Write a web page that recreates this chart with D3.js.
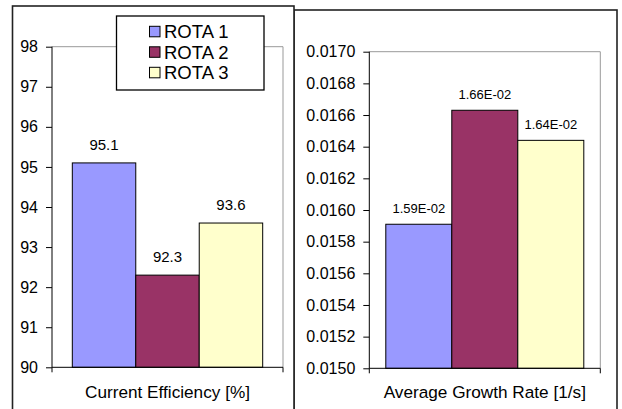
<!DOCTYPE html>
<html>
<head>
<meta charset="utf-8">
<script src="https://cdn.jsdelivr.net/npm/d3@7"></script>
<style>
  body { margin: 0; background: #fff; }
  text { font-family: "Liberation Sans", Arial, sans-serif; fill: #000; }
</style>
</head>
<body>
<svg id="chart" width="622" height="409"></svg>
<script>
const series = ["ROTA 1", "ROTA 2", "ROTA 3"];
const colors = ["#9999ff", "#993366", "#ffffcc"];
const efficiency = [95.1, 92.3, 93.6];
const efficiencyLabels = ["95.1", "92.3", "93.6"];
const growth = [0.01591, 0.01663, 0.01644];
const growthLabels = ["1.59E-02", "1.66E-02", "1.64E-02"];
const effTicks = [90, 91, 92, 93, 94, 95, 96, 97, 98];
const growthTicks = [0.0150, 0.0152, 0.0154, 0.0156, 0.0158, 0.0160, 0.0162, 0.0164, 0.0166, 0.0168, 0.0170];

const svg = d3.select("#chart");

// outer chart frames (run off bottom of the picture)
svg.append("rect").attr("x", 294).attr("y", 10).attr("width", 323).attr("height", 420)
  .attr("fill", "#fff").attr("stroke", "#222").attr("stroke-width", 1.6);
svg.append("rect").attr("x", 12.5).attr("y", 6).attr("width", 281.5).attr("height", 420)
  .attr("fill", "#fff").attr("stroke", "#222").attr("stroke-width", 1.6);

function panel(opts) {
  const g = svg.append("g");
  const { x0, x1, y0, y1 } = opts;
  const y = d3.scaleLinear().domain(opts.domain).range([y1, y0]);
  const x = d3.scaleBand().domain(series).range([x0, x1]).paddingInner(0).paddingOuter(opts.pad);

  // plot frame: grey top/right
  g.append("path")
    .attr("d", `M${x0},${y0}H${x1}V${y1}`)
    .attr("fill", "none").attr("stroke", "#999").attr("stroke-width", 1);

  // bars
  g.selectAll("rect.bar").data(opts.values).join("rect")
    .attr("class", "bar")
    .attr("x", (d, i) => x(series[i]))
    .attr("width", x.bandwidth())
    .attr("y", d => y(d))
    .attr("height", d => y1 - y(d))
    .attr("fill", (d, i) => colors[i])
    .attr("stroke", "#000").attr("stroke-width", 1);

  // value labels
  g.selectAll("text.val").data(opts.values).join("text")
    .attr("class", "val")
    .attr("x", (d, i) => x(series[i]) + x.bandwidth() / 2)
    .attr("y", d => y(d) - opts.labelGap)
    .attr("text-anchor", "middle")
    .style("font-size", opts.labelSize + "px")
    .text((d, i) => opts.labels[i]);

  // y axis
  const ax = g.append("g").attr("transform", `translate(${x0},0)`)
    .call(d3.axisLeft(y).tickValues(opts.ticks).tickFormat(opts.fmt).tickSize(6).tickPadding(8));
  ax.select(".domain").remove();
  ax.selectAll("line").attr("stroke", "#000");
  ax.selectAll("text").style("font-size", "16px").style("font-family", "Liberation Sans, Arial, sans-serif");
  g.append("line").attr("x1", x0).attr("x2", x0).attr("y1", y0).attr("y2", y1)
    .attr("stroke", "#000");

  // category axis
  g.append("path")
    .attr("d", `M${x0},${y1 + 5}V${y1}H${x1}V${y1 + 5}`)
    .attr("fill", "none").attr("stroke", "#000");
  g.append("text")
    .attr("x", (x0 + x1) / 2).attr("y", 398)
    .attr("text-anchor", "middle")
    .style("font-size", "17.2px")
    .text(opts.title);
}

panel({
  x0: 52, x1: 283, y0: 46.7, y1: 367.3,
  domain: [90, 98], values: efficiency, labels: efficiencyLabels,
  ticks: effTicks, fmt: d3.format("d"), pad: 0.32,
  labelGap: 13, labelSize: 15,
  title: "Current Efficiency [%]"
});

panel({
  x0: 369.3, x1: 600.3, y0: 51.7, y1: 368.3,
  domain: [0.0150, 0.0170], values: growth, labels: growthLabels,
  ticks: growthTicks, fmt: d3.format(".4f"), pad: 0.25,
  labelGap: 11, labelSize: 13,
  title: "Average Growth Rate [1/s]"
});

// legend
const leg = svg.append("g");
leg.append("rect").attr("x", 116.5).attr("y", 16).attr("width", 147.5).attr("height", 74)
  .attr("fill", "#fff").attr("stroke", "#000").attr("stroke-width", 1.3);
const rows = leg.selectAll("g.row").data(series).join("g")
  .attr("class", "row")
  .attr("transform", (d, i) => `translate(0,${38.3 + i * 20.5})`);
rows.append("rect").attr("x", 149.5).attr("y", -12).attr("width", 10.5).attr("height", 10.5)
  .attr("fill", (d, i) => colors[i]).attr("stroke", "#000").attr("stroke-width", 1);
rows.append("text").attr("x", 164).attr("y", 0)
  .style("font-size", "18.5px")
  .text(d => d);
</script>
</body>
</html>
